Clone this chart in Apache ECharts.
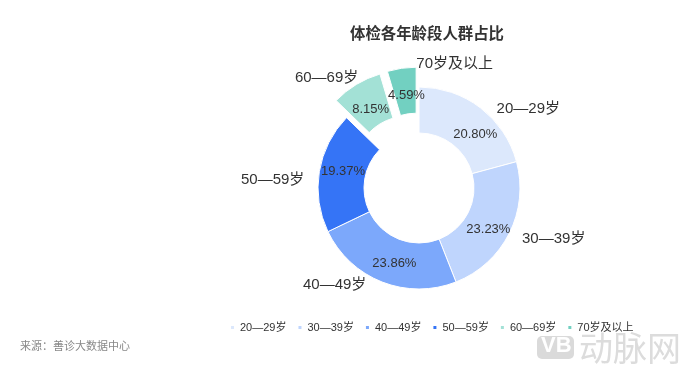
<!DOCTYPE html>
<html><head><meta charset="utf-8">
<script src="https://cdn.jsdelivr.net/npm/echarts@6/dist/echarts.min.js"></script>
<style>html,body{margin:0;padding:0;background:#fff}#c{width:684px;height:371px}</style>
</head><body><div id="c"></div>
<script>
const categories = ['20—29岁','30—39岁','40—49岁','50—59岁','60—69岁','70岁及以上'];
const shares = [20.80, 23.23, 23.86, 19.37, 8.15, 4.59];
const selectedCats = ['60—69岁','70岁及以上'];
const colors = ['#dce8fc','#bfd5fd','#7ca8fb','#3574f6','#a3e1d6','#72d0c1'];
const titleText = '体检各年龄段人群占比';
const sourceText = '来源：善诊大数据中心';

const FONT = '"Liberation Sans","Noto Sans CJK SC",sans-serif';
// label nudges (styling only)
const nameLabelNudge = [[0,3,null],[-4,5,null],[0,1,null],[2,8,null],[18,-5,null],[30,-2,'left']];
const valueLabelNudge = [[7,11],[-3,5],[5,0],[4,-4],[4,8],[2,7]];

const data = categories.map((c,i)=>({name:c,value:shares[i],selected:selectedCats.includes(c),itemStyle:{color:colors[i]}}));
const common = {
  type:'pie', center:[419,188], radius:[55,101], startAngle:90, clockwise:true,
  selectedMode:'multiple', selectedOffset:20, animation:false, avoidLabelOverlap:false
};
const chart = echarts.init(document.getElementById('c'));
chart.setOption({
  backgroundColor:'#fff',
  title:{text:titleText,left:422,textAlign:'center',top:22,textStyle:{fontFamily:FONT,fontSize:15.4,fontWeight:'bold',color:'#333'}},
  legend:{data:categories,left:224,top:317,itemWidth:5,itemHeight:5,itemGap:10,icon:'rect',
    textStyle:{fontFamily:FONT,fontSize:11,color:'#333'},selectedMode:false},
  graphic:[
    {type:'text',left:20,top:341,style:{text:sourceText,font:'11px '+FONT,fill:'#888'}},
    {type:'rect',left:537,top:336,shape:{width:37,height:23,r:5},style:{fill:'#dadada'}},
    {type:'text',left:541,top:335,style:{text:'VB',font:'bold 22px '+FONT,fill:'#fff'}},
    {type:'text',left:579,top:331,style:{text:'动脉网',font:'34px "Noto Sans CJK SC"',fill:'#dcdcdc'}}
  ],
  series:[
    Object.assign({},common,{
      name:'占比', data:data,
      itemStyle:{borderColor:'#fff',borderWidth:1},
      label:{show:true,position:'inside',formatter:p=>p.value.toFixed(2)+'%',fontFamily:FONT,fontSize:13,color:'#333'},
      labelLine:{show:false},
      labelLayout:function(p){const n=valueLabelNudge[p.dataIndex];return {dx:n[0],dy:n[1],hideOverlap:false};}
    }),
    Object.assign({},common,{
      name:'标签', silent:true, z:3,
      data:data.map(d=>Object.assign({},d,{itemStyle:{color:'rgba(0,0,0,0)'}})),
      itemStyle:{color:'rgba(0,0,0,0)',borderWidth:0},
      label:{show:true,position:'outside',formatter:'{b}',fontFamily:FONT,fontSize:15,color:'#333'},
      labelLine:{show:false,length:2,length2:10},
      labelLayout:function(p){
        const n=nameLabelNudge[p.dataIndex];
        const r={dx:n[0],dy:n[1]};
        if(n[2]) r.align=n[2];
        return r;
      },
      emphasis:{disabled:true}
    })
  ]
});
</script></body></html>
